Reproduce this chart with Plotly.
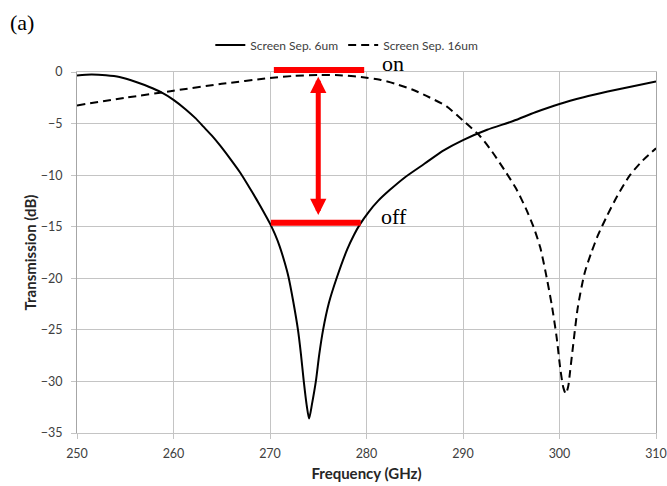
import plotly.graph_objects as go

# ---- data ----
freq_6um = [250, 251.5, 253, 254.4, 256.2, 257.5, 258.75, 260, 261.3, 262.3, 263.1, 264,
            264.8, 265.9, 266.9, 267.8, 268.6, 269.3, 270, 270.5, 271, 271.5, 271.9,
            272.4, 272.9, 273.2, 273.5, 273.8, 274.05, 274.35, 274.75, 275.1, 275.5,
            276.1, 276.9, 278, 278.7, 279.3, 280.2, 281.2, 282.4, 284, 286, 288, 290,
            292.5, 295.2, 297.5, 300, 302.5, 305, 307.5, 310]
trans_6um = [-0.33, -0.25, -0.32, -0.49, -1.0, -1.45, -1.98, -2.7, -3.65, -4.5, -5.3, -6.2,
             -7.1, -8.45, -9.75, -11.1, -12.35, -13.5, -14.7, -15.7, -16.9, -18.4, -19.8,
             -22.2, -25.0, -27.3, -30.0, -32.3, -33.6, -32.2, -30.0, -27.4, -25.0,
             -22.4, -20.0, -17.2, -15.8, -14.8, -13.6, -12.5, -11.45, -10.2, -8.9, -7.6, -6.6,
             -5.6, -4.75, -3.9, -3.1, -2.45, -1.9, -1.4, -0.91]

freq_16um = [250, 255, 260, 265, 270, 272.5, 275, 277.5, 280, 281.4, 283, 284.8, 286.5,
             288.3, 290, 291.75, 293, 294.5, 295.5, 296.5, 297.3, 298, 298.6, 299.2,
             299.7, 300.1, 300.4, 300.65, 300.9, 301.1, 301.4, 301.9, 302.6, 303.3, 304,
             304.9, 306, 307.3, 308.6, 310]
trans_16um = [-3.24, -2.5, -1.82, -1.15, -0.58, -0.38, -0.28, -0.33, -0.55, -0.75, -1.15,
              -1.72, -2.45, -3.34, -4.7, -6.2, -7.7, -9.8, -11.3, -13.2, -15.0, -17.0,
              -19.6, -22.6, -25.7, -28.9, -30.6, -31.2, -30.5, -29.0, -26.6, -22.8, -19.5,
              -17.5, -15.8, -14.0, -12.0, -10.0, -8.6, -7.4]

series_names = ["Screen Sep. 6um", "Screen Sep. 16um"]
x_ticks = [250, 260, 270, 280, 290, 300, 310]
y_ticks = [0, -5, -10, -15, -20, -25, -30, -35]

# on/off markers (paper coordinates of the plot area)
on_bar = dict(x0=0.340, x1=0.496, y=1.0055)
off_bar = dict(x0=0.335, x1=0.490, y=0.5825)
arrow_x = 275.0
arrow_top = -0.45
arrow_bottom = -14.0

FONT = "Lato"
SERIF = "Liberation Serif"

fig = go.Figure()
fig.add_trace(go.Scatter(x=freq_6um, y=trans_6um, mode="lines", name=series_names[0],
                         line=dict(color="black", width=2, shape="spline", smoothing=0.7)))
fig.add_trace(go.Scatter(x=freq_16um, y=trans_16um, mode="lines", name=series_names[1],
                         line=dict(color="black", width=2, dash="8px,5px", shape="spline", smoothing=0.7)))

# red horizontal bars
fig.add_shape(type="line", xref="paper", yref="paper", x0=on_bar["x0"], x1=on_bar["x1"],
              y0=on_bar["y"], y1=on_bar["y"], line=dict(color="#ff0000", width=6))
fig.add_shape(type="line", xref="paper", yref="paper", x0=off_bar["x0"], x1=off_bar["x1"],
              y0=off_bar["y"], y1=off_bar["y"], line=dict(color="#ff0000", width=6))

# double arrow
fig.add_annotation(x=arrow_x, y=arrow_top, ax=arrow_x, ay=arrow_bottom, xref="x", yref="y",
                   axref="x", ayref="y", text="", showarrow=True, arrowhead=2, startarrowhead=2,
                   arrowside="end+start", arrowwidth=5, arrowsize=0.65, startarrowsize=0.65,
                   arrowcolor="#ff0000")

fig.add_annotation(x=0.5458, y=1.0222, xref="paper", yref="paper", text="on", showarrow=False,
                   xanchor="center", yanchor="middle",
                   font=dict(family=SERIF, size=22, color="black"))
fig.add_annotation(x=0.5475, y=0.6005, xref="paper", yref="paper", text="off", showarrow=False,
                   xanchor="center", yanchor="middle",
                   font=dict(family=SERIF, size=22, color="black"))

fig.add_annotation(x=-0.119, y=1.1385, xref="paper", yref="paper", text="(a)", showarrow=False,
                   xanchor="left", yanchor="middle", font=dict(family=SERIF, size=22, color="black"))

fig.update_layout(
    width=667, height=486,
    margin=dict(l=77, r=11, t=72, b=53),
    paper_bgcolor="white", plot_bgcolor="white",
    font=dict(family=FONT, size=12, color="#404040"),
    legend=dict(orientation="h", x=0.466, xanchor="center", y=1.075, yanchor="middle",
                font=dict(family=FONT, size=12, color="#404040"), bgcolor="rgba(0,0,0,0)"),
    xaxis=dict(range=[250, 310], tickvals=x_ticks, showgrid=True, gridcolor="#c4c4c4", gridwidth=1,
               zeroline=False, showline=True, linecolor="#c4c4c4", mirror=True, automargin=False,
               ticks="outside", ticklen=5, tickcolor="#c4c4c4", ticklabelstandoff=4,
               tickfont=dict(family=FONT, size=12.5, color="#404040"),
               title=dict(text="<b>Frequency (GHz)</b>", font=dict(family=FONT, size=15, color="#262626"),
                          standoff=8)),
    yaxis=dict(range=[-35, 0], tickvals=y_ticks, showgrid=True, gridcolor="#c4c4c4", gridwidth=1,
               zeroline=False, showline=True, linecolor="#a6a6a6", mirror=True, automargin=False,
               ticks="outside", ticklen=5, tickcolor="#c4c4c4", ticklabelstandoff=6,
               tickfont=dict(family=FONT, size=12.5, color="#404040"),
               title=dict(text="<b>Transmission (dB)</b>", font=dict(family=FONT, size=15, color="#262626"),
                          standoff=0)),
)

fig.write_html("out.html")
